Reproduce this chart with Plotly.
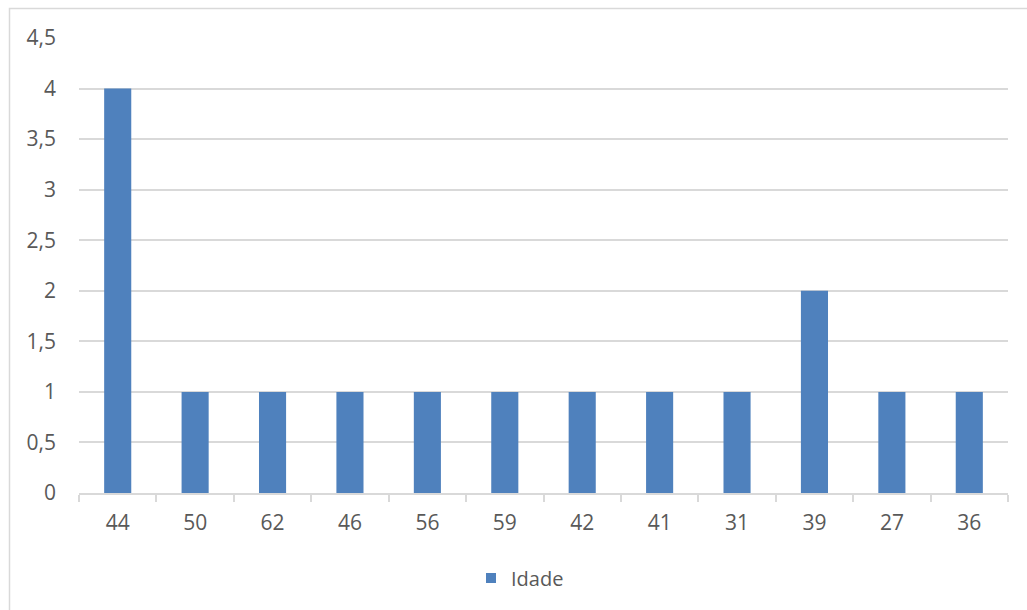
import plotly.graph_objects as go

# Age categories and how many people fall in each
idades = ["44", "50", "62", "46", "56", "59", "42", "41", "31", "39", "27", "36"]
contagem = [4, 1, 1, 1, 1, 1, 1, 1, 1, 2, 1, 1]
serie = "Idade"

W, H = 1027, 610
L, R, T, B = 79, 19, 38, 117
pw, ph = W - L - R, H - T - B

BAR_COLOR = "#4f81bd"
TEXT_COLOR = "#595959"
GRID_COLOR = "#d9d9d9"
FS = 21

fig = go.Figure()
fig.add_trace(
    go.Bar(
        x=idades,
        y=contagem,
        name=serie,
        marker=dict(color=BAR_COLOR, line=dict(width=0)),
        showlegend=False,
    )
)
# Small square legend key for the series
fig.add_trace(
    go.Scatter(
        x=[None],
        y=[None],
        mode="markers",
        name=serie,
        marker=dict(symbol="square", size=10, color=BAR_COLOR),
        showlegend=True,
    )
)

font_family = "'Open Sans', sans-serif"

fig.update_layout(
    width=W,
    height=H,
    margin=dict(l=L, r=R, t=T, b=B),
    paper_bgcolor="white",
    plot_bgcolor="white",
    separators=",.",
    bargap=0.65,
    font=dict(family=font_family, size=FS, color=TEXT_COLOR),
    showlegend=True,
    legend=dict(
        orientation="h",
        x=(511 - 40 - L) / pw,
        xanchor="left",
        y=-(578 - (H - B)) / ph,
        yanchor="middle",
        font=dict(size=FS - 1, color=TEXT_COLOR),
        itemwidth=30,
    ),
    xaxis=dict(
        type="category",
        showgrid=False,
        showline=True,
        linecolor=GRID_COLOR,
        linewidth=1.5,
        ticks="outside",
        tickson="boundaries",
        ticklen=7,
        tickcolor=GRID_COLOR,
        tickwidth=1.5,
        ticklabelstandoff=10,
        tickfont=dict(size=FS, color=TEXT_COLOR),
        fixedrange=True,
    ),
    yaxis=dict(
        range=[0, 4.5],
        dtick=0.5,
        tickformat=",.1~f",
        showgrid=True,
        gridcolor=GRID_COLOR,
        gridwidth=1.5,
        zeroline=False,
        showline=False,
        ticks="",
        ticklabelstandoff=22,
        tickfont=dict(size=FS, color=TEXT_COLOR),
        fixedrange=True,
    ),
)

# Light frame around the chart area (open on the right and bottom)
fig.add_shape(
    type="rect",
    xref="paper",
    yref="paper",
    x0=(9.5 - L) / pw,
    x1=(W + 20 - L) / pw,
    y0=-(B + 20) / ph,
    y1=(H - 8.5 - B) / ph,
    line=dict(color=GRID_COLOR, width=1.5),
    fillcolor="rgba(0,0,0,0)",
    layer="below",
)

fig.write_html("out.html")
